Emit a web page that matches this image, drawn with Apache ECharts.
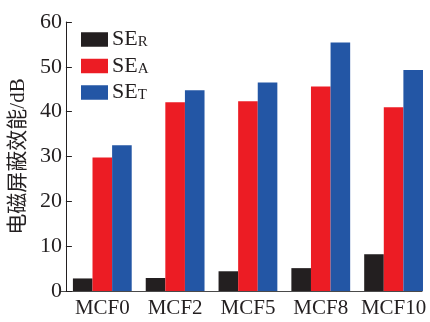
<!DOCTYPE html>
<html>
<head>
<meta charset="utf-8">
<script src="https://cdn.jsdelivr.net/npm/echarts@6/dist/echarts.min.js"></script>
<style>
html,body{margin:0;padding:0;background:#fff;}
#chart{width:430px;height:322px;}
</style>
</head>
<body>
<div id="chart"></div>
<script>
const categories = ['MCF0', 'MCF2', 'MCF5', 'MCF8', 'MCF10'];
const seR = [2.8, 2.9, 4.4, 5.1, 8.2];
const seA = [29.8, 42.1, 42.3, 45.6, 41.0];
const seT = [32.5, 44.8, 46.5, 55.4, 49.3];
const seriesNames = ['SE_R', 'SE_A', 'SE_T'];
const yTicks = { min: 0, max: 60, interval: 10 };
const yName = '电磁屏蔽效能/dB';

const FONT = "'Liberation Serif', 'Noto Sans CJK SC', serif";
const colors = ['#231f20', '#ec1c24', '#2356a5'];

const chart = echarts.init(document.getElementById('chart'), null, {renderer: 'canvas'});
const option = {
  animation: false,
  backgroundColor: '#fff',
  color: colors,
  grid: [
    {left: 61, top: 22, width: 370, bottom: 31, containLabel: false},
    {left: 61, top: 22, right: 8, bottom: 31, containLabel: false}
  ],
  legend: {
    orient: 'vertical',
    left: 81,
    top: 28,
    padding: 0,
    itemWidth: 27,
    itemHeight: 14.5,
    itemGap: 4,
    icon: 'rect',
    data: seriesNames,
    formatter: function (name) {
      const parts = name.split('_');
      return '{a|' + parts[0] + '}{b|' + parts[1] + '}';
    },
    textStyle: {
      padding: [0, 0, 0, -1],
      rich: {
        a: {fontFamily: FONT, fontSize: 22, color: '#231f20', lineHeight: 21},
        b: {fontFamily: FONT, fontSize: 15, color: '#231f20', lineHeight: 21, verticalAlign: 'bottom', padding: [7, 0, 0, 0]}
      }
    }
  },
  xAxis: [
    {
      type: 'category',
      gridIndex: 0,
      data: categories,
      axisLine: {show: false},
      axisTick: {show: false},
      axisLabel: {fontFamily: FONT, fontSize: 21, color: '#231f20', margin: 7, interval: 0},
      splitLine: {show: false}
    },
    {
      type: 'value',
      gridIndex: 1,
      min: 0, max: 1,
      axisLine: {show: true, lineStyle: {color: '#4a4a4a', width: 1.2}},
      axisTick: {show: false},
      axisLabel: {show: false},
      splitLine: {show: false}
    }
  ],
  yAxis: [
    {
      type: 'value',
      gridIndex: 0,
      min: yTicks.min, max: yTicks.max, interval: yTicks.interval,
      name: yName,
      nameLocation: 'middle',
      nameRotate: 90,
      nameGap: 34,
      nameTextStyle: {fontFamily: FONT, fontSize: 21, color: '#231f20'},
      axisLine: {show: true, lineStyle: {color: '#231f20', width: 1}},
      axisTick: {show: true, inside: true, length: 6, lineStyle: {color: '#231f20'}},
      axisLabel: {fontFamily: FONT, fontSize: 22, color: '#231f20', margin: 4},
      splitLine: {show: false}
    },
    {
      type: 'value',
      gridIndex: 1,
      min: 0, max: 1,
      show: false
    }
  ],
  series: [
    {name: seriesNames[0], type: 'bar', xAxisIndex: 0, yAxisIndex: 0, data: seR, barWidth: 19.6, barGap: '0%'},
    {name: seriesNames[1], type: 'bar', xAxisIndex: 0, yAxisIndex: 0, data: seA, barWidth: 19.6, barGap: '0%'},
    {name: seriesNames[2], type: 'bar', xAxisIndex: 0, yAxisIndex: 0, data: seT, barWidth: 19.6, barGap: '0%'}
  ]
};
chart.setOption(option);
</script>
</body>
</html>
